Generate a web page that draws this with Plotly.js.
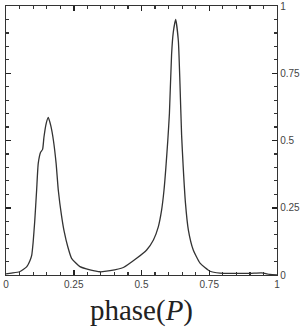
<!DOCTYPE html>
<html>
<head>
<meta charset="utf-8">
<script src="https://cdn.plot.ly/plotly-3.0.1.min.js"></script>
<style>html,body{margin:0;padding:0;background:#fff;}#chart{width:305px;height:335px;}</style>
</head>
<body>
<div id="chart"></div>
<script>
var phase = [0, 0.02, 0.05, 0.076, 0.089, 0.095, 0.1, 0.106, 0.113, 0.119, 0.128, 0.135, 0.14, 0.148, 0.156, 0.165, 0.175, 0.185, 0.193, 0.205, 0.215, 0.228, 0.242, 0.273, 0.31, 0.347, 0.384, 0.433, 0.482, 0.519, 0.544, 0.562, 0.574, 0.583, 0.59, 0.597, 0.603, 0.611, 0.617, 0.626, 0.636, 0.642, 0.648, 0.654, 0.662, 0.673, 0.691, 0.716, 0.753, 0.79, 0.838, 0.9, 0.943, 0.974, 1];
var intensity = [0.004, 0.007, 0.012, 0.03, 0.055, 0.074, 0.12, 0.2, 0.315, 0.415, 0.457, 0.467, 0.512, 0.562, 0.586, 0.556, 0.5, 0.414, 0.315, 0.22, 0.16, 0.105, 0.062, 0.031, 0.019, 0.012, 0.016, 0.028, 0.062, 0.093, 0.13, 0.179, 0.24, 0.315, 0.4, 0.5, 0.6, 0.82, 0.9, 0.95, 0.87, 0.71, 0.52, 0.4, 0.27, 0.167, 0.093, 0.044, 0.014, 0.007, 0.006, 0.006, 0.008, 0.002, 0];
var tickVals = [0, 0.25, 0.5, 0.75, 1];
var tickText = ['0', '0.25', '0.5', '0.75', '1'];

function axis(extra) {
  return Object.assign({
    range: [0, 1],
    showgrid: false,
    zeroline: false,
    showline: true,
    linecolor: '#333',
    linewidth: 1.2,
    ticks: 'inside',
    ticklen: 5,
    tickcolor: '#222',
    tickwidth: 1.5,
    tickvals: tickVals,
    ticktext: tickText,
    tickfont: {family: 'Liberation Sans, Arial, sans-serif', size: 10, color: '#444'},
    minor: {dtick: 0.05, tick0: 0, ticks: 'inside', ticklen: 3, tickcolor: '#333', tickwidth: 1.2, showgrid: false}
  }, extra);
}

var layout = {
  width: 305,
  height: 335,
  margin: {l: 6, r: 28, t: 6, b: 60},
  paper_bgcolor: '#fff',
  plot_bgcolor: '#fff',
  showlegend: false,
  xaxis: axis({
    title: {text: 'phase(<i>P</i>)', font: {family: 'Liberation Serif, DejaVu Serif, serif', size: 29, color: '#222'}, standoff: 10}
  }),
  yaxis: axis({side: 'right'}),
  xaxis2: axis({overlaying: 'x', side: 'top', showticklabels: false}),
  yaxis2: axis({overlaying: 'y', side: 'left', showticklabels: false})
};

var trace = {
  x: phase,
  y: intensity,
  type: 'scatter',
  mode: 'lines',
  line: {color: '#333', width: 1.3, shape: 'spline', smoothing: 0.5},
  hoverinfo: 'none'
};
var frame = {
  x: [0], y: [0], xaxis: 'x2', yaxis: 'y2', type: 'scatter', mode: 'markers',
  marker: {opacity: 0}, hoverinfo: 'none'
};

Plotly.newPlot('chart', [trace, frame], layout, {displayModeBar: false, staticPlot: true});
</script>
</body>
</html>
